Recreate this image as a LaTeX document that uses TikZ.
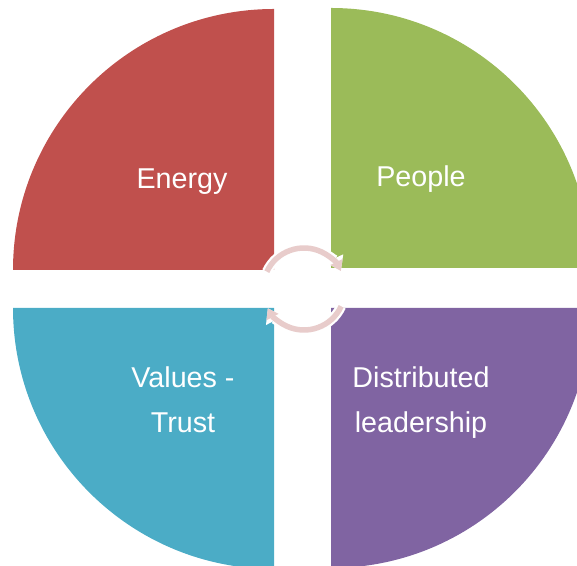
\documentclass[tikz,border=0pt]{standalone}
\usepackage{fontspec}
\setmainfont{Liberation Sans}
\usetikzlibrary{arrows.meta}
\definecolor{qred}{HTML}{C0504D}
\definecolor{qgreen}{HTML}{9BBB59}
\definecolor{qblue}{HTML}{4BACC6}
\definecolor{qpurple}{HTML}{8064A2}
\definecolor{ringpink}{HTML}{E8CCCB}
\begin{document}
\begin{tikzpicture}[x=1bp,y=1bp,
  lbl/.style={text=white,font=\fontsize{28.8}{45}\selectfont,align=center,inner sep=0pt},
  ringunder/.style={white,line width=10bp,-{Triangle[length=14bp,width=18bp]}},
  ringtop/.style={ringpink,line width=5.5bp,-{Triangle[length=10bp,width=13bp]}}]
\useasboundingbox (0,0) rectangle (577,566);
\begin{scope}
\clip (0,0) rectangle (577,566);
\fill[qred] (274,296) -- ++(-261,0) arc (180:90:261) -- cycle;
\fill[qgreen] (331,298) -- ++(0,260) arc (90:0:260) -- cycle;
\fill[qblue] (274,258) -- ++(-261,0) arc (180:270:261) -- cycle;
\fill[qpurple] (331,258) -- ++(0,-260) arc (270:360:260) -- cycle;
\end{scope}
\coordinate (c) at (304,277);
\draw[ringunder] ([shift={(155:41)}]c) arc (155:26:41);
\draw[ringunder] ([shift={(-25:41)}]c) arc (-25:-152:41);
\draw[ringtop] ([shift={(155:41)}]c) arc (155:26:41);
\draw[ringtop] ([shift={(-25:41)}]c) arc (-25:-152:41);
\node[lbl] (energy) at (182,384) {Energy};
\node[lbl] (people) at (421,387) {People};
\node[lbl] (values) at (183,166) {Values -\\Trust};
\node[lbl] (dist) at (421,163) {Distributed\\leadership};
\end{tikzpicture}
\end{document}
